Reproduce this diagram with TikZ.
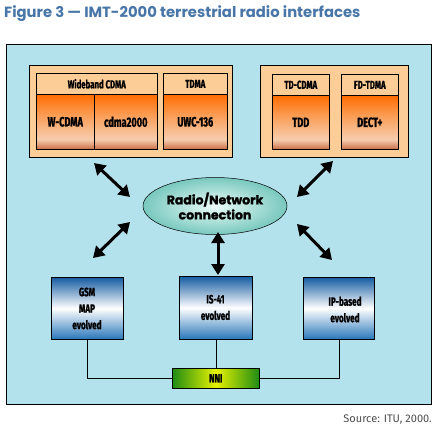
\documentclass[tikz,border=0pt]{standalone}
\usepackage{fontspec}
\setmainfont{Poppins}
\newfontfamily\heavyf[FakeBold=1.5]{Poppins}
\newfontfamily\condf[FakeStretch=0.68,FakeBold=1.2]{Fira Sans}
\newfontfamily\srcf{Fira Sans}
\usetikzlibrary{arrows.meta,shapes.geometric,shadings}
\definecolor{bgblue}{RGB}{180,226,236}
\definecolor{peach}{RGB}{253,205,152}
\definecolor{titleblue}{RGB}{72,118,168}
\definecolor{otop}{RGB}{255,108,0}
\definecolor{omid}{RGB}{250,160,90}
\definecolor{opale}{RGB}{246,205,175}
\definecolor{obot}{RGB}{200,110,70}
\definecolor{btop}{RGB}{22,92,162}
\definecolor{bbot}{RGB}{40,118,185}
\definecolor{ngreen}{RGB}{30,140,20}
\definecolor{nyellow}{RGB}{232,242,0}
\definecolor{eouter}{RGB}{120,200,190}
\definecolor{einner}{RGB}{235,252,248}
\pgfdeclareverticalshading{orangesh}{100bp}{color(0bp)=(obot); color(25bp)=(obot); color(34bp)=(opale); color(55bp)=(omid); color(75bp)=(otop); color(100bp)=(otop)}
\tikzset{
  outerbox/.style={draw=black, line width=0.8pt, fill=peach, anchor=north west, inner sep=0pt},
  headcell/.style={draw=black, line width=0.6pt, fill=peach, anchor=north west, inner sep=0pt, font=\condf\bfseries\fontsize{11.5}{12}\selectfont},
  bodycell/.style={draw=black, line width=0.6pt, shading=orangesh, anchor=north west, inner sep=0pt, font=\condf\bfseries\fontsize{13.5}{14}\selectfont},
  netbox/.style={draw=black, line width=0.6pt, top color=btop, bottom color=bbot, middle color=white, anchor=north west, inner sep=0pt},
  lbl/.style={font=\condf\bfseries\fontsize{12}{16.5}\selectfont, align=center, inner sep=0pt},
  bigarrow/.style={line width=3pt, {Triangle[length=11pt,width=13pt]}-{Triangle[length=11pt,width=13pt]}},
  link/.style={draw=black, line width=0.6pt}
}
\begin{document}
\begin{tikzpicture}[x=1pt,y=-1pt]
\useasboundingbox (0,0) rectangle (438,434);
% title
\node[anchor=west, inner sep=0pt, text=titleblue, font=\bfseries\fontsize{14.8}{16}\selectfont] (title) at (4,14) {Figure 3 --- IMT-2000 terrestrial radio interfaces};
% outer background
\node[draw=black, line width=0.8pt, fill=bgblue, anchor=north west, minimum width=425pt, minimum height=360pt, inner sep=0pt] (bg) at (6,44) {};
% left orange group
\node[outerbox, minimum width=203pt, minimum height=92pt] (lgrp) at (29,65) {};
\node[headcell, minimum width=121pt, minimum height=21pt] (wcdmah) at (36,73) {Wideband CDMA};
\node[bodycell, minimum width=58pt, minimum height=55pt] (wcdma) at (36,94) {W-CDMA};
\node[bodycell, minimum width=63pt, minimum height=55pt] (cdma2k) at (94,94) {cdma2000};
\node[headcell, minimum width=64pt, minimum height=21pt] (tdmah) at (163,73) {TDMA};
\node[bodycell, minimum width=64pt, minimum height=55pt] (uwc) at (163,94) {UWC-136};
% right orange group
\node[outerbox, minimum width=148pt, minimum height=92pt] (rgrp) at (260,65) {};
\node[headcell, minimum width=57pt, minimum height=21pt] (tdcdmah) at (272,74) {TD-CDMA};
\node[bodycell, minimum width=57pt, minimum height=54pt] (tdd) at (272,95) {TDD};
\node[headcell, minimum width=57pt, minimum height=21pt] (fdtdmah) at (341,74) {FD-TDMA};
\node[bodycell, minimum width=57pt, minimum height=54pt] (dect) at (341,95) {DECT+};
% ellipse
\node[ellipse, draw=black, line width=0.5pt, inner color=einner, outer color=eouter, minimum width=144pt, minimum height=57pt, inner sep=0pt, align=center, font=\heavyf\bfseries\fontsize{12.5}{15}\selectfont] (radio) at (215,206) {Radio/Network\\connection};
% network boxes
\node[netbox, minimum width=72pt, minimum height=62pt] (gsm) at (51,277) {};
\node[lbl] (gsmt) at (87,308.5) {GSM\\MAP\\evolved};
\node[netbox, minimum width=73pt, minimum height=63pt] (is41) at (179,276) {};
\node[lbl] (is41t) at (215.5,307.5) {IS-41\\evolved};
\node[netbox, minimum width=71pt, minimum height=62pt] (ip) at (303,277) {};
\node[lbl] (ipt) at (345,309.5) {IP-based\\evolved};
% NNI
\node[draw=black, line width=0.6pt, left color=ngreen, right color=ngreen, middle color=nyellow, minimum width=87pt, minimum height=20pt, anchor=north west, inner sep=0pt, font=\condf\bfseries\fontsize{12}{13}\selectfont] (nni) at (172,368) {NNI};
\draw[link] (gsm.south) |- (nni.west);
\draw[link] (is41.south) -- (is41.south |- nni.north);
\draw[link] (ip.south) |- (nni.east);
% arrow end points
\coordinate (a1s) at (94,163); \coordinate (a1e) at (130,197);
\coordinate (a2s) at (333,161); \coordinate (a2e) at (297,197);
\coordinate (a3s) at (130,222); \coordinate (a3e) at (93,258);
\coordinate (a4s) at (297,224); \coordinate (a4e) at (332,260);
\coordinate (a5s) at (218,232); \coordinate (a5e) at (218,275);
\draw[bigarrow] (a1s) -- (a1e);
\draw[bigarrow] (a2s) -- (a2e);
\draw[bigarrow] (a3s) -- (a3e);
\draw[bigarrow] (a4s) -- (a4e);
\draw[bigarrow] (a5s) -- (a5e);
% source
\node[anchor=east, inner sep=0pt, text=black!70, font=\srcf\fontsize{11}{12}\selectfont] (src) at (432,420) {Source: ITU, 2000.};
\end{tikzpicture}
\end{document}
